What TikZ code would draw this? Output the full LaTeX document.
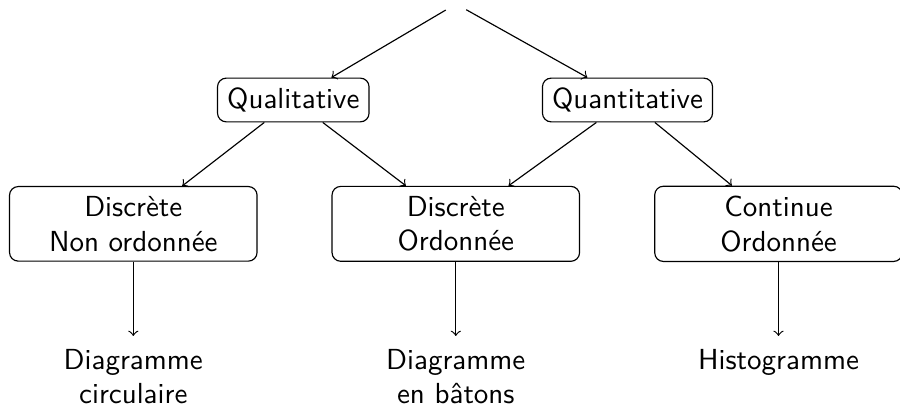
\documentclass[tikz,border=0pt]{standalone}
\usepackage{fontspec}
\begin{document}
\begin{tikzpicture}[x=0.344828pt,y=-0.344828pt,
  every node/.style={font=\sffamily},
  box/.style={draw, rounded corners=3pt, align=center},
  widebox/.style={box, minimum width=3cm},
  leaf/.style={align=center, anchor=north, inner sep=4.3pt},
  arr/.style={->}]
\useasboundingbox (0,0) rectangle (900,407);
\node (top) at (456,4) {};
\node[box] (ql) at (293.3,100) {Qualitative};
\node[box] (qt) at (627.5,100) {Quantitative};
\node[widebox] (dn) at (133.3,223.85) {Discrète\\Non ordonnée};
\node[widebox] (do) at (455.8,223.85) {Discrète\\Ordonnée};
\node[widebox] (co) at (778.5,223.85) {Continue\\Ordonnée};
\node[leaf] (l1) at (133.3,336) {Diagramme\\circulaire};
\node[leaf] (l2) at (455.8,336) {Diagramme\\en bâtons};
\node[leaf] (l3) at (778.5,336) {Histogramme};
\draw[arr] (top) -- (ql);
\draw[arr] (top) -- (qt);
\draw[arr] (ql) -- (dn);
\draw[arr] (ql) -- (do);
\draw[arr] (qt) -- (do);
\draw[arr] (qt) -- (co);
\draw[arr] (dn) -- (l1);
\draw[arr] (do) -- (l2);
\draw[arr] (co) -- (l3);
\end{tikzpicture}
\end{document}
